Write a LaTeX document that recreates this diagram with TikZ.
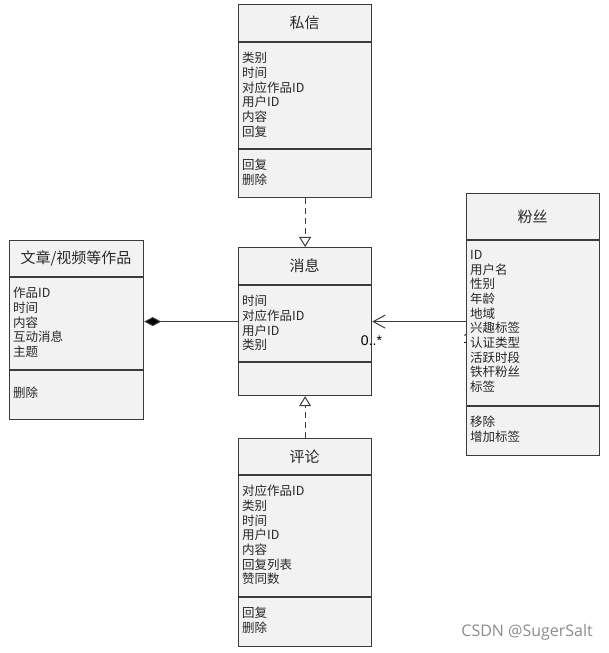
\documentclass[tikz,border=0pt]{standalone}
\usepackage{fontspec}
\setmainfont{Noto Sans CJK SC}
\newfontfamily\markfont{Open Sans}
\newfontfamily\multfont{Liberation Sans}
\usetikzlibrary{arrows.meta, positioning, calc, backgrounds}
\definecolor{cLine}{RGB}{60,60,60}
\definecolor{cFill}{RGB}{242,242,242}
\definecolor{cText}{RGB}{40,40,40}
\tikzset{
	classbox/.style ={rectangle, draw=cLine, line width=1.2pt, fill=cFill, anchor=north west, inner sep=0pt},
	classname/.style={font=\fontsize{15}{18}\selectfont, text=cText, inner sep=0pt},
	members/.style  ={anchor=north west, align=left, inner sep=0pt, font=\fontsize{12.5}{14.7}\selectfont, text=cText},
	divider/.style  ={draw=cLine, line width=1.2pt},
	% relations
	realize/.style  ={draw=cLine, line width=1pt, dash pattern=on 6pt off 4pt, -{Triangle[open, length=10pt, width=12pt]}},
	compose/.style  ={draw=cLine, line width=1pt, -{Diamond[length=17pt, width=9pt, fill=black]}},
	assoc/.style    ={draw=cLine, line width=1pt, -{Straight Barb[length=12pt, width=13pt]}},
	mult/.style     ={font=\multfont\fontsize{14}{16}\selectfont, text=black, inner sep=0pt},
}
\begin{document}
\begin{tikzpicture}[x=1pt, y=1pt]
	\useasboundingbox (0,0) rectangle (608,653);
	% private message
	\node[classbox, minimum width=133pt, minimum height=193pt] (sixin) at (238,649) {};
	\draw[divider] (sixin.west |- 0,611) -- (sixin.east |- 0,611);
	\draw[divider] (sixin.west |- 0,504) -- (sixin.east |- 0,504);
	\node[classname] (sixinname) at (304.5,630) {私信};
	\node[members] (sixinattr) at (242,601) {类别\\时间\\对应作品ID\\用户ID\\内容\\回复};
	\node[members] (sixinop) at (242,494) {回复\\删除};
	% message
	\node[classbox, minimum width=133pt, minimum height=148pt] (xiaoxi) at (238,406) {};
	\draw[divider] (xiaoxi.west |- 0,368) -- (xiaoxi.east |- 0,368);
	\draw[divider] (xiaoxi.west |- 0,291) -- (xiaoxi.east |- 0,291);
	\node[classname] (xiaoxiname) at (304.5,387) {消息};
	\node[members] (xiaoxiattr) at (242,358) {时间\\对应作品ID\\用户ID\\类别};
	% comment
	\node[classbox, minimum width=133pt, minimum height=208pt] (pinglun) at (238,215) {};
	\draw[divider] (pinglun.west |- 0,178) -- (pinglun.east |- 0,178);
	\draw[divider] (pinglun.west |- 0,56) -- (pinglun.east |- 0,56);
	\node[classname] (pinglunname) at (304.5,196.5) {评论};
	\node[members] (pinglunattr) at (242,168) {对应作品ID\\类别\\时间\\用户ID\\内容\\回复列表\\赞同数};
	\node[members] (pinglunop) at (242,46) {回复\\删除};
	% works
	\node[classbox, minimum width=134pt, minimum height=179pt] (zuopin) at (9,413) {};
	\draw[divider] (zuopin.west |- 0,376) -- (zuopin.east |- 0,376);
	\draw[divider] (zuopin.west |- 0,283) -- (zuopin.east |- 0,283);
	\node[classname] (zuopinname) at (76,394.5) {文章/视频等作品};
	\node[members] (zuopinattr) at (13,366) {作品ID\\时间\\内容\\互动消息\\主题};
	\node[members] (zuopinop) at (13,266) {删除};
	% fans
	\node[classbox, minimum width=133pt, minimum height=262pt] (fensi) at (466,460) {};
	\draw[divider] (fensi.west |- 0,413) -- (fensi.east |- 0,413);
	\draw[divider] (fensi.west |- 0,247) -- (fensi.east |- 0,247);
	\node[classname] (fensiname) at (532.5,436.5) {粉丝};
	\node[members] (fensiattr) at (470,403) {ID\\用户名\\性别\\年龄\\地域\\兴趣标签\\认证类型\\活跃时段\\铁杆粉丝\\标签};
	\node[members] (fensiop) at (470,237) {移除\\增加标签};
	% relations
	\draw[realize] (sixin.south) -- (xiaoxi.north);
	\draw[realize] (pinglun.north) -- (xiaoxi.south);
	\draw[compose] (xiaoxi.west) -- (xiaoxi.west -| zuopin.east);
	\draw[assoc] (xiaoxi.east -| fensi.west) -- (xiaoxi.east);
	\node[mult, anchor=base east] (manyend) at ($(xiaoxi.east)+(10,-24)$) {0..*};
	\begin{scope}[on background layer]
		\node[mult, anchor=base] (oneend) at ($(xiaoxi.east -| fensi.west)+(1,-22)$) {1};
	\end{scope}
	% watermark
	\node[font=\markfont\fontsize{16}{18}\selectfont, text=black!45, anchor=east, inner sep=0pt] (mark) at (593,21) {CSDN @SugerSalt};
\end{tikzpicture}
\end{document}
